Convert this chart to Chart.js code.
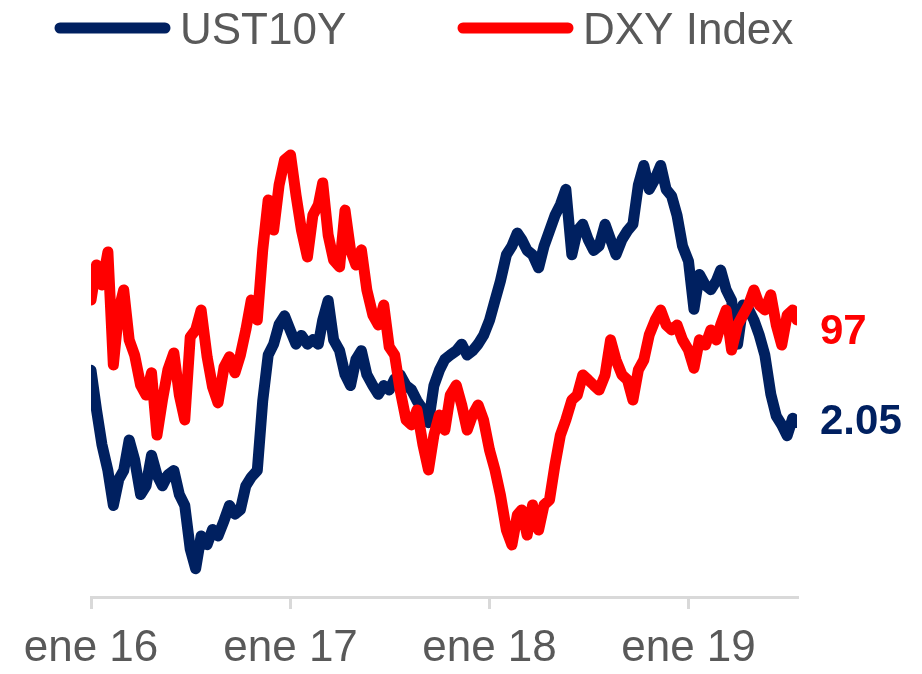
<!DOCTYPE html>
<html>
<head>
<meta charset="utf-8">
<script src="https://cdn.jsdelivr.net/npm/chart.js@4.4.0/dist/chart.umd.min.js"></script>
<style>
  body { margin: 0; background: #fff; }
  canvas { display: block; }
</style>
</head>
<body>
<canvas id="chart" width="922" height="674"></canvas>
<script>
// samples every ~10 days
const dates = [
  '2016-01-01','2016-01-11','2016-01-21','2016-02-01','2016-02-11','2016-02-21','2016-03-01','2016-03-11','2016-03-21',
  '2016-04-01','2016-04-11','2016-04-21','2016-05-01','2016-05-11','2016-05-21','2016-06-01','2016-06-11','2016-06-21',
  '2016-07-01','2016-07-11','2016-07-21','2016-08-01','2016-08-11','2016-08-21','2016-09-01','2016-09-11','2016-09-21',
  '2016-10-01','2016-10-11','2016-10-21','2016-11-01','2016-11-11','2016-11-21','2016-12-01','2016-12-11','2016-12-21',
  '2017-01-01','2017-01-11','2017-01-21','2017-02-01','2017-02-11','2017-02-21','2017-03-01','2017-03-11','2017-03-21',
  '2017-04-01','2017-04-11','2017-04-21','2017-05-01','2017-05-11','2017-05-21','2017-06-01','2017-06-11','2017-06-21',
  '2017-07-01','2017-07-11','2017-07-21','2017-08-01','2017-08-11','2017-08-21','2017-09-01','2017-09-11','2017-09-21',
  '2017-10-01','2017-10-11','2017-10-21','2017-11-01','2017-11-11','2017-11-21','2017-12-01','2017-12-11','2017-12-21',
  '2018-01-01','2018-01-11','2018-01-21','2018-02-01','2018-02-11','2018-02-21','2018-03-01','2018-03-11','2018-03-21',
  '2018-04-01','2018-04-11','2018-04-21','2018-05-01','2018-05-11','2018-05-21','2018-06-01','2018-06-11','2018-06-21',
  '2018-07-01','2018-07-11','2018-07-21','2018-08-01','2018-08-11','2018-08-21','2018-09-01','2018-09-11','2018-09-21',
  '2018-10-01','2018-10-11','2018-10-21','2018-11-01','2018-11-11','2018-11-21','2018-12-01','2018-12-11','2018-12-21',
  '2019-01-01','2019-01-11','2019-01-21','2019-02-01','2019-02-11','2019-02-21','2019-03-01','2019-03-11','2019-03-21',
  '2019-04-01','2019-04-11','2019-04-21','2019-05-01','2019-05-11','2019-05-21','2019-06-01','2019-06-11','2019-06-21',
  '2019-07-01','2019-07-11','2019-07-19'
];

const ust10y = [
  2.29, 2.11, 1.95, 1.83, 1.67, 1.79, 1.83, 1.97, 1.88, 1.72, 1.76, 1.90, 1.81, 1.76, 1.81, 1.83, 1.72, 1.67,
  1.47, 1.38, 1.53, 1.49, 1.56, 1.53, 1.60, 1.67, 1.63, 1.65, 1.76, 1.80, 1.83, 2.15, 2.36, 2.41, 2.50, 2.54,
  2.47, 2.41, 2.45, 2.41, 2.43, 2.41, 2.52, 2.61, 2.43, 2.38, 2.27, 2.22, 2.34, 2.38, 2.27, 2.22, 2.18, 2.22,
  2.20, 2.25, 2.27, 2.22, 2.20, 2.15, 2.11, 2.05, 2.22, 2.29, 2.34, 2.36, 2.38, 2.41, 2.36, 2.38, 2.41, 2.45,
  2.52, 2.61, 2.70, 2.82, 2.86, 2.92, 2.89, 2.84, 2.82, 2.76, 2.86, 2.93, 3.00, 3.05, 3.12, 2.82, 2.93, 2.96,
  2.89, 2.84, 2.86, 2.96, 2.89, 2.82, 2.89, 2.93, 2.96, 3.14, 3.23, 3.12, 3.17, 3.23, 3.12, 3.09, 3.00, 2.86,
  2.79, 2.57, 2.73, 2.68, 2.66, 2.70, 2.75, 2.66, 2.61, 2.41, 2.59, 2.57, 2.52, 2.45, 2.36, 2.18, 2.08, 2.04,
  1.99, 2.07, 2.05
];

const dxy = [
  97.75, 99.09, 98.33, 99.59, 95.27, 97.37, 98.14, 96.23, 95.65, 94.50, 94.12, 94.97, 92.59, 93.93, 95.08, 95.73, 94.12, 93.17,
  96.34, 96.61, 97.37, 95.58, 94.43, 93.82, 95.19, 95.58, 94.97, 95.65, 96.61, 97.75, 96.99, 99.67, 101.58, 100.43, 102.15, 103.11,
  103.30, 101.77, 100.43, 99.40, 101.00, 101.39, 102.23, 100.24, 99.28, 99.02, 101.19, 99.67, 99.09, 99.67, 98.14, 97.18, 96.80, 97.56,
  95.96, 95.65, 94.31, 93.17, 92.98, 93.55, 92.21, 91.26, 92.59, 93.36, 92.78, 94.12, 94.50, 93.74, 92.78, 93.36, 93.74, 93.17,
  92.02, 91.26, 90.30, 88.96, 88.39, 89.54, 89.73, 88.77, 89.92, 88.96, 89.92, 90.11, 91.45, 92.59, 93.17, 93.93, 94.12, 94.89,
  94.70, 94.50, 94.31, 94.89, 96.23, 95.46, 94.89, 94.70, 93.93, 95.08, 95.46, 96.42, 96.99, 97.37, 96.80, 96.61, 96.80, 96.23,
  95.84, 95.15, 96.23, 96.03, 96.61, 96.23, 96.80, 97.37, 95.84, 96.80, 97.18, 97.56, 98.14, 97.56, 97.37, 97.95, 96.80, 96.03,
  97.18, 97.37, 96.99
];

const seriesNames = ['UST10Y', 'DXY Index'];
const endLabels = ['2.05', '97'];
const tickDates = ['2016-01-01', '2017-01-01', '2018-01-01', '2019-01-01'];
const tickLabels = ['ene 16', 'ene 17', 'ene 18', 'ene 19'];

const navy = '#002060';
const red = '#FF0000';
const grey = '#595959';
const axisGrey = '#D9D9D9';
const fontFamily = "'Liberation Sans', Arial, sans-serif";

const day0 = Date.parse('2016-01-01');
function dayOf(d) {
  return (Date.parse(d) - day0) / 86400000;
}
const xs = dates.map(dayOf);
function toPoints(vals) {
  return vals.map((v, i) => ({ x: xs[i], y: v }));
}

// legend on top and value labels at the end of each line
const extras = {
  id: 'extras',
  afterDraw(chart) {
    const ctx = chart.ctx;
    const legendX = [55, 458];
    ctx.save();
    chart.data.datasets.forEach((ds, i) => {
      const x0 = legendX[i];
      ctx.strokeStyle = ds.borderColor;
      ctx.lineWidth = 11;
      ctx.lineCap = 'round';
      ctx.beginPath();
      ctx.moveTo(x0 + 5, 28);
      ctx.lineTo(x0 + 110, 28);
      ctx.stroke();
      ctx.fillStyle = grey;
      ctx.font = '44px ' + fontFamily;
      ctx.textBaseline = 'alphabetic';
      ctx.textAlign = 'left';
      ctx.fillText(ds.label, x0 + 125, 44);
    });

    const offsets = [0, 12];
    chart.data.datasets.forEach((ds, i) => {
      const meta = chart.getDatasetMeta(i);
      const last = meta.data[meta.data.length - 1];
      ctx.fillStyle = ds.borderColor;
      ctx.font = 'bold 42px ' + fontFamily;
      ctx.textBaseline = 'middle';
      ctx.textAlign = 'left';
      ctx.fillText(endLabels[i], chart.chartArea.right + 23, last.y + offsets[i]);
    });
    ctx.restore();
  }
};

new Chart(document.getElementById('chart'), {
  type: 'line',
  data: {
    datasets: [
      {
        label: seriesNames[0],
        data: toPoints(ust10y),
        yAxisID: 'y',
        borderColor: navy,
        backgroundColor: navy,
        borderWidth: 11,
        borderCapStyle: 'round',
        borderJoinStyle: 'round',
        pointRadius: 0,
        tension: 0,
        order: 2
      },
      {
        label: seriesNames[1],
        data: toPoints(dxy),
        yAxisID: 'y2',
        borderColor: red,
        backgroundColor: red,
        borderWidth: 11,
        borderCapStyle: 'round',
        borderJoinStyle: 'round',
        pointRadius: 0,
        tension: 0,
        order: 1
      }
    ]
  },
  options: {
    responsive: false,
    animation: false,
    layout: { padding: { left: 91, right: 125, top: 100, bottom: 0 } },
    plugins: {
      legend: { display: false },
      tooltip: { enabled: false }
    },
    scales: {
      x: {
        type: 'linear',
        min: 0,
        max: xs[xs.length - 1],
        afterBuildTicks: (scale) => {
          scale.ticks = tickDates.map(d => ({ value: dayOf(d) }));
        },
        afterFit: (scale) => { scale.height = 77; },
        ticks: {
          callback: (v, i) => tickLabels[i],
          color: grey,
          font: { family: fontFamily, size: 44, lineHeight: 1 },
          padding: 18,
          maxRotation: 0,
          autoSkip: false
        },
        grid: {
          display: true,
          drawOnChartArea: false,
          drawTicks: true,
          tickLength: 12,
          color: axisGrey,
          lineWidth: 3
        },
        border: { display: true, color: axisGrey, width: 3 }
      },
      y: { display: false, min: 1.25, max: 3.53 },
      y2: { display: false, min: 86.4, max: 105.4 }
    }
  },
  plugins: [extras]
});
</script>
</body>
</html>
